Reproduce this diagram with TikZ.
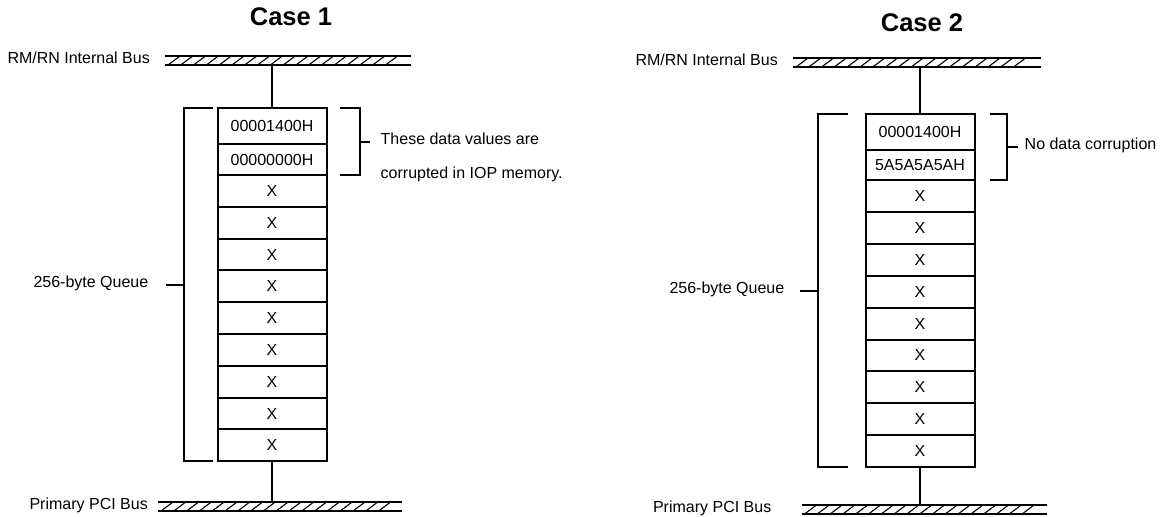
\documentclass[tikz,border=0pt]{standalone}
\usepackage{fontspec}
\setmainfont{Liberation Sans}
\usetikzlibrary{positioning, calc}

\tikzset{
  cell/.style={draw, line width=2pt, minimum width=109, minimum height=31.8,
    inner sep=0pt, outer sep=0pt, font=\fontsize{16}{19}\selectfont},
  bus/.style={minimum height=9, inner sep=0pt, outer sep=0pt},
  busline/.style={line width=2pt},
  hatch/.style={line width=1.1pt},
  wire/.style={line width=2pt},
  lbl/.style={inner sep=0pt, font=\fontsize{16}{19}\selectfont},
  title/.style={inner sep=0pt, font=\fontsize{25.5}{30}\selectfont\bfseries}
}

\begin{document}
\begin{tikzpicture}[x=1pt, y=-1pt]
    \useasboundingbox (0,0) rectangle (1163,517);

    % ================= Case 1 =================
    \node[title] (C1) at (291,17) {Case 1};

    % buses
    \node[bus, minimum width=246] (T1) at (288,60.5) {};
    \node[bus, minimum width=244] (P1) at (280,506.5) {};
    \foreach \b in {T1, P1} {
        \draw[busline] (\b.north west) -- (\b.north east);
        \draw[busline] (\b.south west) -- (\b.south east);
        \foreach \k in {0,...,17}
            \draw[hatch] ([xshift=3+12.8*\k]\b.south west) -- ++(12,-9);
    }
    \node[lbl, anchor=mid east] (TL1) at ([xshift=-15]T1.west) {RM/RN Internal Bus};
    \node[lbl, anchor=mid east] (PL1) at ([xshift=-10]P1.west) {Primary PCI Bus};

    % queue cells
    \node[cell, minimum height=36] (A1) at (272,126) {00001400H};
    \node[cell, minimum height=31, below=0pt of A1] (A2) {00000000H};
    \foreach \i in {3,...,11} {
        \pgfmathtruncatemacro{\prev}{\i-1}
        \node[cell, below=0pt of A\prev] (A\i) {X};
    }

    % bus stubs
    \draw[wire] (A1.north) -- (A1.north |- T1.south);
    \draw[wire] (A11.south) -- (A11.south |- P1.north);

    % left bracket
    \draw[wire] ([xshift=-5]A1.north west) -- ++(-29,0) coordinate (L1t)
        -- (L1t |- A11.south) coordinate (L1b) -- ++(29,0);
    \draw[wire] ($(L1t)!0.5!(L1b)$) -- ++(-18,0) coordinate (L1m);
    \node[lbl, anchor=mid east] (Q1) at ([xshift=-17]L1m) {256-byte Queue};

    % right bracket
    \draw[wire] ([xshift=13]A1.north east) -- ++(20,0) coordinate (R1t)
        -- (R1t |- A2.south) coordinate (R1b) -- ++(-20,0);
    \draw[wire] ($(R1t)!0.5!(R1b)$) -- ++(10,0) coordinate (R1m);
    \node[lbl, anchor=mid west] (N1a) at ([xshift=11]R1m) {These data values are};
    \node[lbl, anchor=mid west] (N1b) at ([xshift=11,yshift=-34]R1m) {corrupted in IOP memory.};

    % ================= Case 2 =================
    \node[title] (C2) at (922,23) {Case 2};

    % buses
    \node[bus, minimum width=248] (T2) at (917,62.5) {};
    \node[bus, minimum width=245] (P2) at (924,509.5) {};
    \foreach \b in {T2, P2} {
        \draw[busline] (\b.north west) -- (\b.north east);
        \draw[busline] (\b.south west) -- (\b.south east);
        \foreach \k in {0,...,17}
            \draw[hatch] ([xshift=3+12.8*\k]\b.south west) -- ++(12,-9);
    }
    \node[lbl, anchor=mid east] (TL2) at ([xshift=-15]T2.west) {RM/RN Internal Bus};
    \node[lbl, anchor=mid east] (PL2) at ([xshift=-30]P2.west) {Primary PCI Bus};

    % queue cells
    \node[cell, minimum height=36] (B1) at (920,132) {00001400H};
    \node[cell, minimum height=30, below=0pt of B1] (B2) {5A5A5A5AH};
    \foreach \i in {3,...,11} {
        \pgfmathtruncatemacro{\prev}{\i-1}
        \node[cell, minimum height=31.9, below=0pt of B\prev] (B\i) {X};
    }

    % bus stubs
    \draw[wire] (B1.north) -- (B1.north |- T2.south);
    \draw[wire] (B11.south) -- (B11.south |- P2.north);

    % left bracket
    \draw[wire] ([xshift=-18]B1.north west) -- ++(-30,0) coordinate (L2t)
        -- (L2t |- B11.south) coordinate (L2b) -- ++(30,0);
    \draw[wire] ($(L2t)!0.5!(L2b)$) -- ++(-18,0) coordinate (L2m);
    \node[lbl, anchor=mid east] (Q2) at ([xshift=-15]L2m) {256-byte Queue};

    % right bracket
    \draw[wire] ([xshift=15]B1.north east) -- ++(17,0) coordinate (R2t)
        -- (R2t |- B2.south) coordinate (R2b) -- ++(-17,0);
    \draw[wire] ($(R2t)!0.5!(R2b)$) -- ++(11,0) coordinate (R2m);
    \node[lbl, anchor=mid west] (N2) at ([xshift=7]R2m) {No data corruption};

\end{tikzpicture}
\end{document}
